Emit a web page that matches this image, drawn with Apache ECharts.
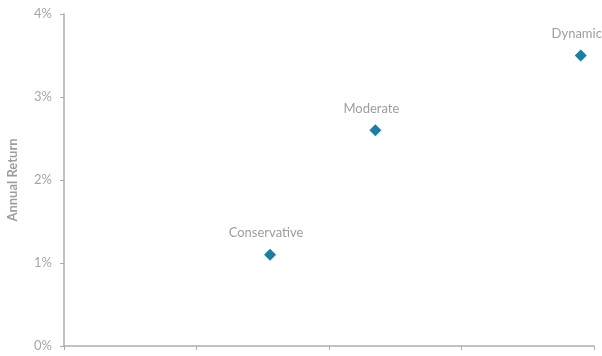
<!DOCTYPE html>
<html><head><meta charset="utf-8">
<script src="https://cdn.jsdelivr.net/npm/echarts@6/dist/echarts.min.js"></script>
<style>html,body{margin:0;padding:0;background:#fff}#c{width:602px;height:356px}</style>
</head><body><div id="c"></div>
<script>
const names = ["Conservative", "Moderate", "Dynamic"];
const risk = [1.555, 2.35, 3.9];
const annualReturn = [1.1, 2.6, 3.5];
const yTicks = [0, 1, 2, 3, 4];

const chart = echarts.init(document.getElementById('c'));
const axisColor = '#a9aeb3';
const font = 'Lato';
chart.setOption({
  animation: false,
  grid: {left: 64, right: 8, top: 14, bottom: 10, containLabel: false, outerBoundsMode: 'none'},
  xAxis: {
    type: 'value', min: 0, max: 4, interval: 1,
    axisLine: {show: true, lineStyle: {color: axisColor, width: 1.5}},
    axisTick: {show: true, length: 4, lineStyle: {color: axisColor}},
    axisLabel: {show: false},
    splitLine: {show: false}
  },
  yAxis: {
    type: 'value', min: 0, max: 4, interval: 1,
    name: 'Annual Return', nameLocation: 'middle', nameGap: 45, nameRotate: 90,
    nameTextStyle: {color: '#9a9ea3', fontSize: 13, fontWeight: 'bold', fontFamily: font},
    axisLine: {show: true, lineStyle: {color: axisColor, width: 1.5}},
    axisTick: {show: true, length: 4, lineStyle: {color: axisColor}},
    axisLabel: {color: '#a3a6aa', fontSize: 13, fontFamily: font, margin: 12,
      formatter: v => yTicks.includes(v) ? v + '%' : ''},
    splitLine: {show: false}
  },
  series: [{
    type: 'scatter',
    symbol: 'diamond', symbolSize: 12,
    itemStyle: {color: '#1b7ea4', opacity: 1},
    label: {show: true, position: 'top', distance: 9, offset: [-4, 0], formatter: p => p.value[2],
      color: '#9a9ea3', fontSize: 13, fontFamily: font},
    data: names.map((n, i) => ({value: [risk[i], annualReturn[i], n]}))
  }]
});
</script></body></html>
